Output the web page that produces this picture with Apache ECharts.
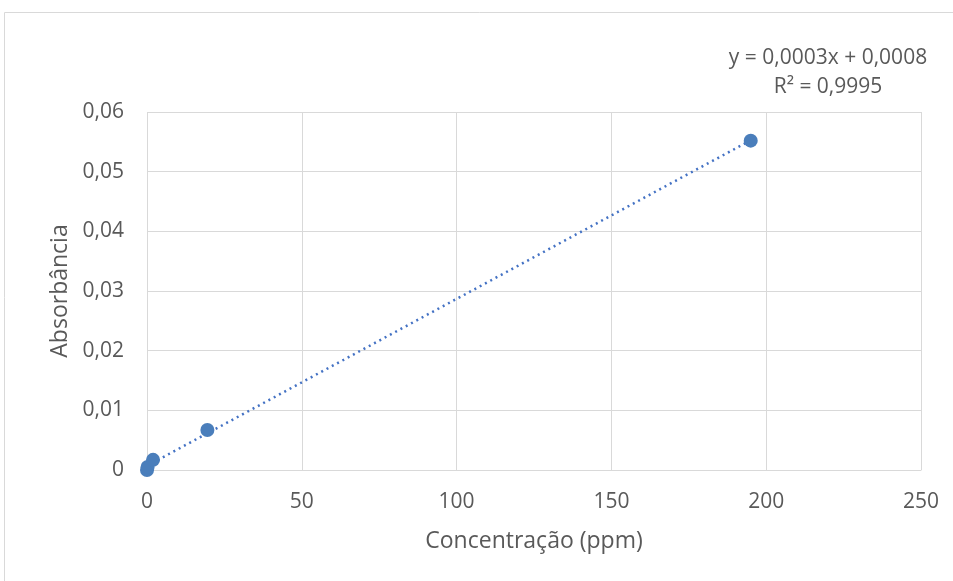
<!DOCTYPE html>
<html><head><meta charset="utf-8">
<script src="https://cdn.jsdelivr.net/npm/echarts@6/dist/echarts.min.js"></script>
<style>html,body{margin:0;padding:0;background:#fff}#c{width:953px;height:581px}</style>
</head><body><div id="c"></div>
<script>
const concentration = [0, 0.195, 1.95, 19.5, 195];
const absorbance = [0.0000, 0.0005, 0.0017, 0.0067, 0.0552];
const xTicks = [0, 50, 100, 150, 200, 250];
const yTicks = [0, 0.01, 0.02, 0.03, 0.04, 0.05, 0.06];
const equationText = 'y = 0,0003x + 0,0008';
const r2Text = 'R² = 0,9995';

// least-squares trendline through the data
const n = concentration.length;
const mx = concentration.reduce((a,b)=>a+b,0)/n;
const my = absorbance.reduce((a,b)=>a+b,0)/n;
let sxy=0, sxx=0;
for (let i=0;i<n;i++){ sxy+=(concentration[i]-mx)*(absorbance[i]-my); sxx+=(concentration[i]-mx)**2; }
const slope = sxy/sxx, intercept = my - slope*mx;
const xMinD = Math.min(...concentration), xMaxD = Math.max(...concentration);
const trend = [[xMinD, slope*xMinD+intercept],[xMaxD, slope*xMaxD+intercept]];

const font = '"Open Sans", sans-serif';
const txt = '#595959';
const chart = echarts.init(document.getElementById('c'));
chart.setOption({
  animation:false,
  textStyle:{fontFamily:font},
  graphic:[
    {type:'rect', shape:{x:4.5,y:12.5,width:1000,height:700}, style:{fill:'none',stroke:'#d9d9d9',lineWidth:1}, z:-10},
    {type:'text', x:828, y:58, style:{text:equationText, fill:txt, font:'21px '+font, textAlign:'center', textVerticalAlign:'middle'}},
    {type:'text', x:828, y:87, style:{text:r2Text, fill:txt, font:'21px '+font, textAlign:'center', textVerticalAlign:'middle'}}
  ],
  grid:{left:147, right:32, top:112, bottom:111, containLabel:false},
  xAxis:{type:'value', min:xTicks[0], max:xTicks[xTicks.length-1], interval:50,
    name:'Concentração (ppm)', nameLocation:'middle', nameGap:60,
    nameTextStyle:{color:txt, fontSize:23, fontFamily:font},
    axisLine:{show:true, lineStyle:{color:'#d9d9d9'}}, axisTick:{show:false},
    axisLabel:{color:txt, fontSize:21, margin:22, fontFamily:font},
    splitLine:{show:true, lineStyle:{color:'#d9d9d9', width:1}}},
  yAxis:{type:'value', min:yTicks[0], max:yTicks[yTicks.length-1], interval:0.01,
    name:'Absorbância', nameLocation:'middle', nameGap:73, nameRotate:90,
    nameTextStyle:{color:txt, fontSize:23, fontFamily:font},
    axisLine:{show:false}, axisTick:{show:false},
    axisLabel:{color:txt, fontSize:21, margin:23, fontFamily:font, formatter:v=>(Math.round(v*100)/100).toString().replace('.',',')},
    splitLine:{show:true, lineStyle:{color:'#d9d9d9', width:1}}},
  series:[
    {type:'line', data:trend, showSymbol:false, symbol:'none', lineStyle:{color:'#4472c4', width:2.5, type:[2,4]}, z:1},
    {type:'scatter', data:concentration.map((x,i)=>[x,absorbance[i]]), symbol:'circle', symbolSize:14, itemStyle:{color:'#4a7ebb', opacity:1}, z:2}
  ]
});
</script></body></html>
